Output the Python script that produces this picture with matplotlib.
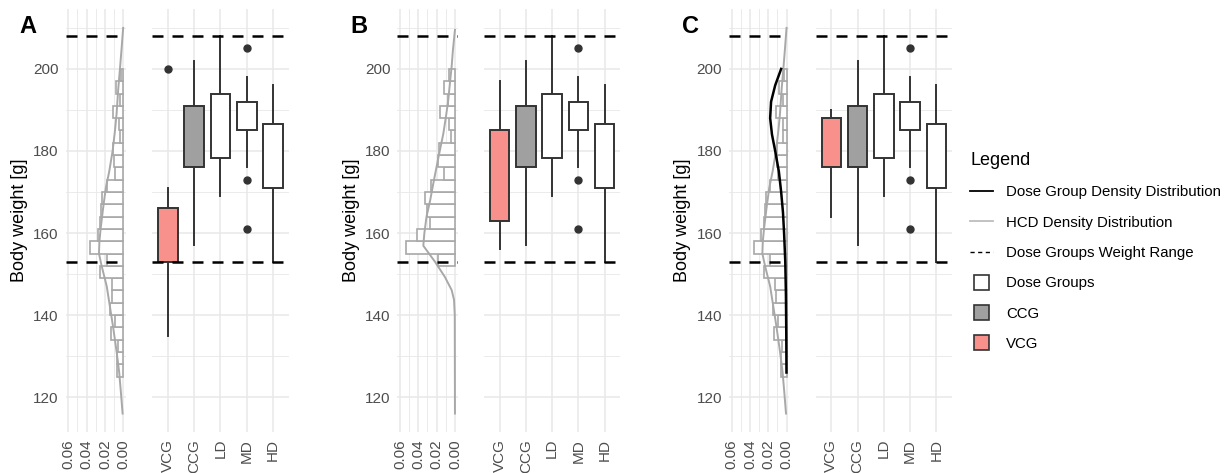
import numpy as np
import matplotlib.pyplot as plt
from matplotlib.lines import Line2D
from matplotlib.patches import Patch, Rectangle
from matplotlib.legend_handler import HandlerPatch

plt.rcParams['font.family'] = ['Liberation Sans', 'DejaVu Sans']

# ---- data -------------------------------------------------------------
groups = ['VCG', 'CCG', 'LD', 'MD', 'HD']

# boxplot summaries: lower whisker, Q1, median, Q3, upper whisker
vcg_a = [135, 153, 162, 166, 171]
vcg_a_out = [200]
vcg_b = [156, 163, 169, 185, 197]
vcg_b_out = []
vcg_c = [164, 176, 184, 188, 190]
vcg_c_out = []
ccg = [157, 176, 180, 191, 202]
ld = [169, 178.2, 187.6, 194, 208]
md = [176, 185, 187, 192, 198]
md_out = [161, 173, 205]
hd = [153, 171, 180.5, 186.5, 196]

# dose groups weight range
range_low, range_high = 153, 208

# HCD histogram (3 g bins), densities from the lowest bin upward
hcd_edges = np.arange(125, 201, 3)
hcd_dens = [0.0065, 0.0065, 0.0055, 0.0135, 0.009, 0.015, 0.012, 0.0127,
            0.025, 0.018, 0.036, 0.028, 0.025, 0.024, 0.023, 0.018, 0.009,
            0.010, 0.011, 0.004, 0.0044, 0.0116, 0.0036, 0.008, 0.003]
hcd_kde_w = [116, 121, 126, 131, 137, 142, 147, 152, 155, 158, 161, 166,
             171, 175, 180, 185, 189, 195, 200, 205, 210]
hcd_kde_d = [0.0007, 0.0025, 0.0044, 0.0072, 0.011, 0.0145, 0.018, 0.0236,
             0.0265, 0.026, 0.0247, 0.022, 0.019, 0.0153, 0.0116, 0.009,
             0.0073, 0.0055, 0.0036, 0.0018, 0.0001]

# HCD subset used in panel B
sub_edges = np.arange(152, 201, 3)
sub_dens = [0.018, 0.053, 0.041, 0.027, 0.031, 0.033, 0.026, 0.012, 0.019,
            0.017, 0.004, 0.006, 0.0164, 0.0073, 0.0116, 0.006]
sub_kde_w = [116, 140, 143.7, 146.1, 149.3, 153, 156.9, 159.9, 164, 168,
             172.1, 176.2, 180.2, 184.2, 188.4, 192.4, 196.5, 200.6, 204.6,
             209.5]
sub_kde_d = [0.0, 0.0002, 0.001, 0.0036, 0.011, 0.0218, 0.0345, 0.0334,
             0.031, 0.027, 0.0236, 0.020, 0.0164, 0.0127, 0.0098, 0.0073,
             0.0055, 0.0036, 0.0022, 0.0]

# dose group density (panel C)
dg_kde_w = [126, 135, 145, 153, 160, 165, 170, 175, 180, 184, 188, 192,
            196, 200]
dg_kde_d = [0.0002, 0.0004, 0.0008, 0.0015, 0.0028, 0.004, 0.006, 0.0085,
            0.0125, 0.016, 0.018, 0.017, 0.0125, 0.006]

# ---- styling ----------------------------------------------------------
VCG_COL = '#F8918C'
CCG_COL = '#A0A0A0'
EDGE = '#333333'
HCD_COL = '#A8A8A8'
GRID = '#E8E8E8'
TICK = '#4D4D4D'
DASH = (0, (4.4, 3.6))

W, H = 1231, 473
fig = plt.figure(figsize=(W / 100, H / 100), dpi=100)


def px_axes(left, right, top=9, bottom=432):
    return fig.add_axes([left / W, 1 - bottom / H, (right - left) / W,
                         (bottom - top) / H])


def style(ax):
    for s in ax.spines.values():
        s.set_visible(False)
    ax.tick_params(which='both', length=0, labelsize=11, labelcolor=TICK, pad=5)
    ax.set_ylim(111.5, 214.6)
    ax.set_yticks([120, 140, 160, 180, 200])
    ax.set_yticks([130, 150, 170, 190, 210], minor=True)
    ax.grid(which='major', color=GRID, lw=1.1, zorder=0)
    ax.grid(which='minor', color=GRID, lw=0.6, zorder=0)
    ax.set_axisbelow(True)
    ax.axhline(range_low, color='black', lw=1.8, ls=DASH, zorder=5)
    ax.axhline(range_high, color='black', lw=1.8, ls=DASH, zorder=5)


def hist_panel(ax, edges, dens, kde_w, kde_d, dg=None):
    style(ax)
    ax.barh(edges[:-1], dens, height=3, align='edge', facecolor='white',
            edgecolor=HCD_COL, lw=1.2, zorder=2)
    ax.plot(kde_d, kde_w, color=HCD_COL, lw=1.4, zorder=3)
    if dg is not None:
        ax.plot(dg[1], dg[0], color='black', lw=1.8, zorder=4)
    ax.set_xlim(0.063, -0.003)
    ax.set_xticks([0, 0.02, 0.04, 0.06])
    ax.set_xticks([0.01, 0.03, 0.05], minor=True)
    ax.set_xticklabels(['0.00', '0.02', '0.04', '0.06'], rotation=90)
    ax.set_ylabel('Body weight [g]', fontsize=13)
    ax.yaxis.set_label_coords(-0.62, 0.5)


def box_panel(ax, vcg, vcg_out):
    style(ax)
    summaries = [vcg, ccg, ld, md, hd]
    outliers = [vcg_out, [], [], md_out, []]
    stats = [dict(whislo=s[0], q1=s[1], med=s[2], q3=s[3], whishi=s[4],
                  fliers=o) for s, o in zip(summaries, outliers)]
    parts = ax.bxp(stats, positions=range(1, 6), widths=0.75, showcaps=False,
                   patch_artist=True,
                   boxprops=dict(edgecolor=EDGE, lw=1.4),
                   whiskerprops=dict(color=EDGE, lw=1.4),
                   medianprops=dict(color=EDGE, lw=2.6),
                   flierprops=dict(marker='o', markerfacecolor=EDGE,
                                   markeredgecolor=EDGE, markersize=5))
    for patch, col in zip(parts['boxes'], [VCG_COL, CCG_COL, 'white', 'white', 'white']):
        patch.set_facecolor(col)
        patch.set_zorder(3)
    ax.set_xlim(0.4, 5.6)
    ax.set_xticks(range(1, 6))
    ax.set_xticklabels(groups, rotation=90)
    ax.grid(which='minor', axis='x', visible=False)
    ax.tick_params(axis='y', labelleft=False)


panels = [
    ('A', hcd_edges, hcd_dens, hcd_kde_w, hcd_kde_d, None, vcg_a, vcg_a_out),
    ('B', sub_edges, sub_dens, sub_kde_w, sub_kde_d, None, vcg_b, vcg_b_out),
    ('C', hcd_edges, hcd_dens, hcd_kde_w, hcd_kde_d, (dg_kde_w, dg_kde_d),
     vcg_c, vcg_c_out),
]

for i, (tag, edges, dens, kw, kd, dg, vcg, vcg_out) in enumerate(panels):
    dx = i * 331.7
    ax_h = px_axes(65.5 + dx, 126 + dx)
    hist_panel(ax_h, edges, dens, kw, kd, dg)
    ax_b = px_axes(152.2 + dx, 288.7 + dx)
    box_panel(ax_b, vcg, vcg_out)
    fig.text((19 + dx) / W, 1 - 33 / H, tag, fontsize=17, fontweight='bold',
             va='baseline', ha='left')


# ---- legend -----------------------------------------------------------
def square_key(legend, orig_handle, xdescent, ydescent, width, height, fontsize):
    side = 11.0
    return Rectangle((-xdescent + (width - side) / 2,
                      -ydescent + (height - side) / 2), side, side)


handles = [
    Line2D([], [], color='black', lw=1.3),
    Line2D([], [], color='#BDBDBD', lw=1.3),
    Line2D([], [], color='black', lw=1.0, ls=(0, (3, 2.5))),
    Patch(facecolor='white', edgecolor=EDGE, lw=1.2),
    Patch(facecolor=CCG_COL, edgecolor=EDGE, lw=1.2),
    Patch(facecolor=VCG_COL, edgecolor=EDGE, lw=1.2),
]
labels = ['Dose Group Density Distribution', 'HCD Density Distribution',
          'Dose Groups Weight Range', 'Dose Groups', 'CCG', 'VCG']
fig.legend(handles, labels, loc='upper left',
           bbox_to_anchor=(970 / W, 1 - 152 / H), frameon=False,
           title='Legend', title_fontsize=13, fontsize=10.8,
           handlelength=1.55, handletextpad=0.85, labelspacing=1.09,
           borderpad=0, borderaxespad=0, alignment='left',
           handler_map={Patch: HandlerPatch(patch_func=square_key)})

fig.savefig('out.png', dpi=100)
